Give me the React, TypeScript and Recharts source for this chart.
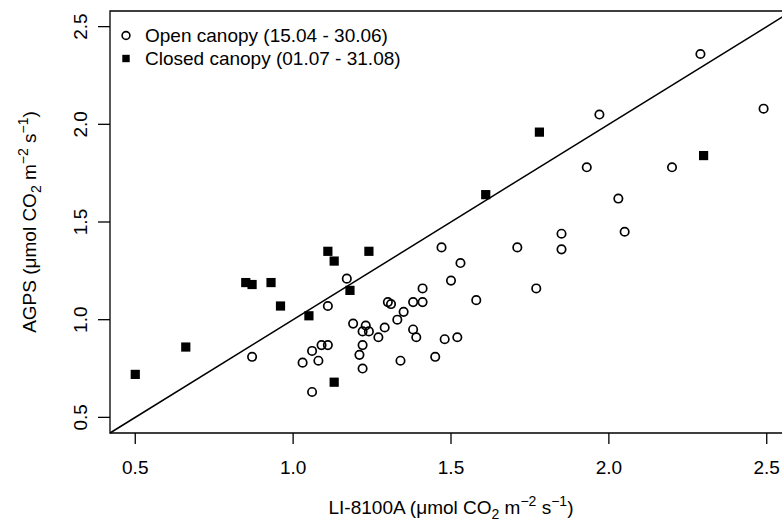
import React from "react";
import {
  ScatterChart,
  Scatter,
  XAxis,
  YAxis,
  ReferenceLine,
  ReferenceArea,
  Legend,
} from "recharts";

const FONT = "'Liberation Sans', Arial, Helvetica, sans-serif";

// open canopy (15.04 - 30.06)
const openX = [
  0.87, 1.06, 1.03, 1.08, 1.06, 1.09, 1.11, 1.11, 1.17, 1.19, 1.21, 1.22,
  1.22, 1.22, 1.23, 1.24, 1.27, 1.29, 1.3, 1.31, 1.33, 1.34, 1.35, 1.38,
  1.38, 1.39, 1.41, 1.41, 1.45, 1.47, 1.48, 1.5, 1.52, 1.53, 1.58, 1.71,
  1.77, 1.85, 1.85, 1.93, 1.97, 2.03, 2.05, 2.2, 2.29, 2.49,
];
const openY = [
  0.81, 0.63, 0.78, 0.79, 0.84, 0.87, 0.87, 1.07, 1.21, 0.98, 0.82, 0.87,
  0.75, 0.94, 0.97, 0.94, 0.91, 0.96, 1.09, 1.08, 1.0, 0.79, 1.04, 1.09,
  0.95, 0.91, 1.16, 1.09, 0.81, 1.37, 0.9, 1.2, 0.91, 1.29, 1.1, 1.37,
  1.16, 1.44, 1.36, 1.78, 2.05, 1.62, 1.45, 1.78, 2.36, 2.08,
];

// closed canopy (01.07 - 31.08)
const closedX = [
  0.5, 0.66, 0.85, 0.87, 0.93, 0.96, 1.05, 1.11, 1.13, 1.24, 1.18, 1.13,
  1.61, 1.78, 2.3,
];
const closedY = [
  0.72, 0.86, 1.19, 1.18, 1.19, 1.07, 1.02, 1.35, 1.3, 1.35, 1.15, 0.68,
  1.64, 1.96, 1.84,
];

const ticks = [0.5, 1.0, 1.5, 2.0, 2.5];
const domain: [number, number] = [0.42, 2.58];

const openData = openX.map((x, i) => ({ x, y: openY[i] }));
const closedData = closedX.map((x, i) => ({ x, y: closedY[i] }));

const OpenShape = (p: any) => (
  <circle cx={p.cx} cy={p.cy} r={4.2} fill="none" stroke="#000" strokeWidth={1.7} />
);
const ClosedShape = (p: any) => (
  <rect x={p.cx - 4.6} y={p.cy - 4.6} width={9.2} height={9.2} fill="#000" />
);

function UnitText() {
  return (
    <>
      <tspan>(μmol CO</tspan>
      <tspan fontSize={14} dy={5}>2</tspan>
      <tspan dy={-5}> m</tspan>
      <tspan fontSize={14} dy={-8}>−2</tspan>
      <tspan dy={8}> s</tspan>
      <tspan fontSize={14} dy={-8}>−1</tspan>
      <tspan dy={8}>)</tspan>
    </>
  );
}

const XTitle = (props: any) => {
  const vb = props.viewBox;
  return (
    <text x={vb.x + vb.width / 2} y={514} textAnchor="middle" fontFamily={FONT} fontSize={19} fill="#000">
      <tspan>LI-8100A </tspan>
      <UnitText />
    </text>
  );
};

const YTitle = (props: any) => {
  const vb = props.viewBox;
  const cy = vb.y + vb.height / 2;
  return (
    <text
      x={36}
      y={cy}
      transform={`rotate(-90, 36, ${cy})`}
      textAnchor="middle"
      fontFamily={FONT}
      fontSize={19}
      fill="#000"
    >
      <tspan>AGPS </tspan>
      <UnitText />
    </text>
  );
};

const XTick = (p: any) => (
  <text x={p.x} y={474} textAnchor="middle" fontFamily={FONT} fontSize={19} fill="#000">
    {Number(p.payload.value).toFixed(1)}
  </text>
);

const YTick = (p: any) => (
  <text
    x={87}
    y={p.y}
    transform={`rotate(-90, 87, ${p.y})`}
    textAnchor="middle"
    fontFamily={FONT}
    fontSize={19}
    fill="#000"
  >
    {Number(p.payload.value).toFixed(1)}
  </text>
);

const LegendBox = () => (
  <div style={{ fontFamily: FONT, fontSize: 19, color: "#000", lineHeight: "23px" }}>
    <div style={{ display: "flex", alignItems: "center", height: 23 }}>
      <svg width={18} height={23}>
        <circle cx={9} cy={11.5} r={3.9} fill="none" stroke="#000" strokeWidth={1.6} />
      </svg>
      <span style={{ marginLeft: 10 }}>Open canopy (15.04 - 30.06)</span>
    </div>
    <div style={{ display: "flex", alignItems: "center", height: 23 }}>
      <svg width={18} height={23}>
        <rect x={5.3} y={7.8} width={7.4} height={7.4} fill="#000" />
      </svg>
      <span style={{ marginLeft: 10 }}>Closed canopy (01.07 - 31.08)</span>
    </div>
  </div>
);

export default function App() {
  return (
    <div
      style={{
        position: "absolute",
        left: 0,
        top: 0,
        width: 782,
        height: 524,
        overflow: "hidden",
        background: "#fff",
      }}
    >
      <ScatterChart width={800} height={524} margin={{ top: 11, right: 8, bottom: 0, left: 0 }}>
        <XAxis
          type="number"
          dataKey="x"
          domain={domain}
          ticks={ticks}
          allowDataOverflow
          height={91}
          tickSize={11}
          axisLine={false}
          tickLine={{ stroke: "#000", strokeWidth: 1.3 }}
          tick={XTick}
          label={{ content: XTitle }}
        />
        <YAxis
          type="number"
          dataKey="y"
          domain={domain}
          ticks={ticks}
          allowDataOverflow
          width={110}
          tickSize={12}
          axisLine={false}
          tickLine={{ stroke: "#000", strokeWidth: 1.3 }}
          tick={YTick}
          label={{ content: YTitle }}
        />
        <ReferenceArea
          x1={domain[0]}
          x2={domain[1]}
          y1={domain[0]}
          y2={domain[1]}
          fill="none"
          fillOpacity={0}
          stroke="#000"
          strokeWidth={1.3}
          ifOverflow="visible"
        />
        <ReferenceLine
          segment={[
            { x: domain[0], y: domain[0] },
            { x: domain[1], y: domain[1] },
          ]}
          stroke="#000"
          strokeWidth={1.5}
        />
        <Legend
          layout="vertical"
          align="center"
          verticalAlign="middle"
          wrapperStyle={{ left: 117, top: 24, width: "auto" }}
          content={LegendBox}
        />
        <Scatter name="Open canopy" data={openData} shape={OpenShape} isAnimationActive={false} />
        <Scatter name="Closed canopy" data={closedData} shape={ClosedShape} isAnimationActive={false} />
      </ScatterChart>
    </div>
  );
}
